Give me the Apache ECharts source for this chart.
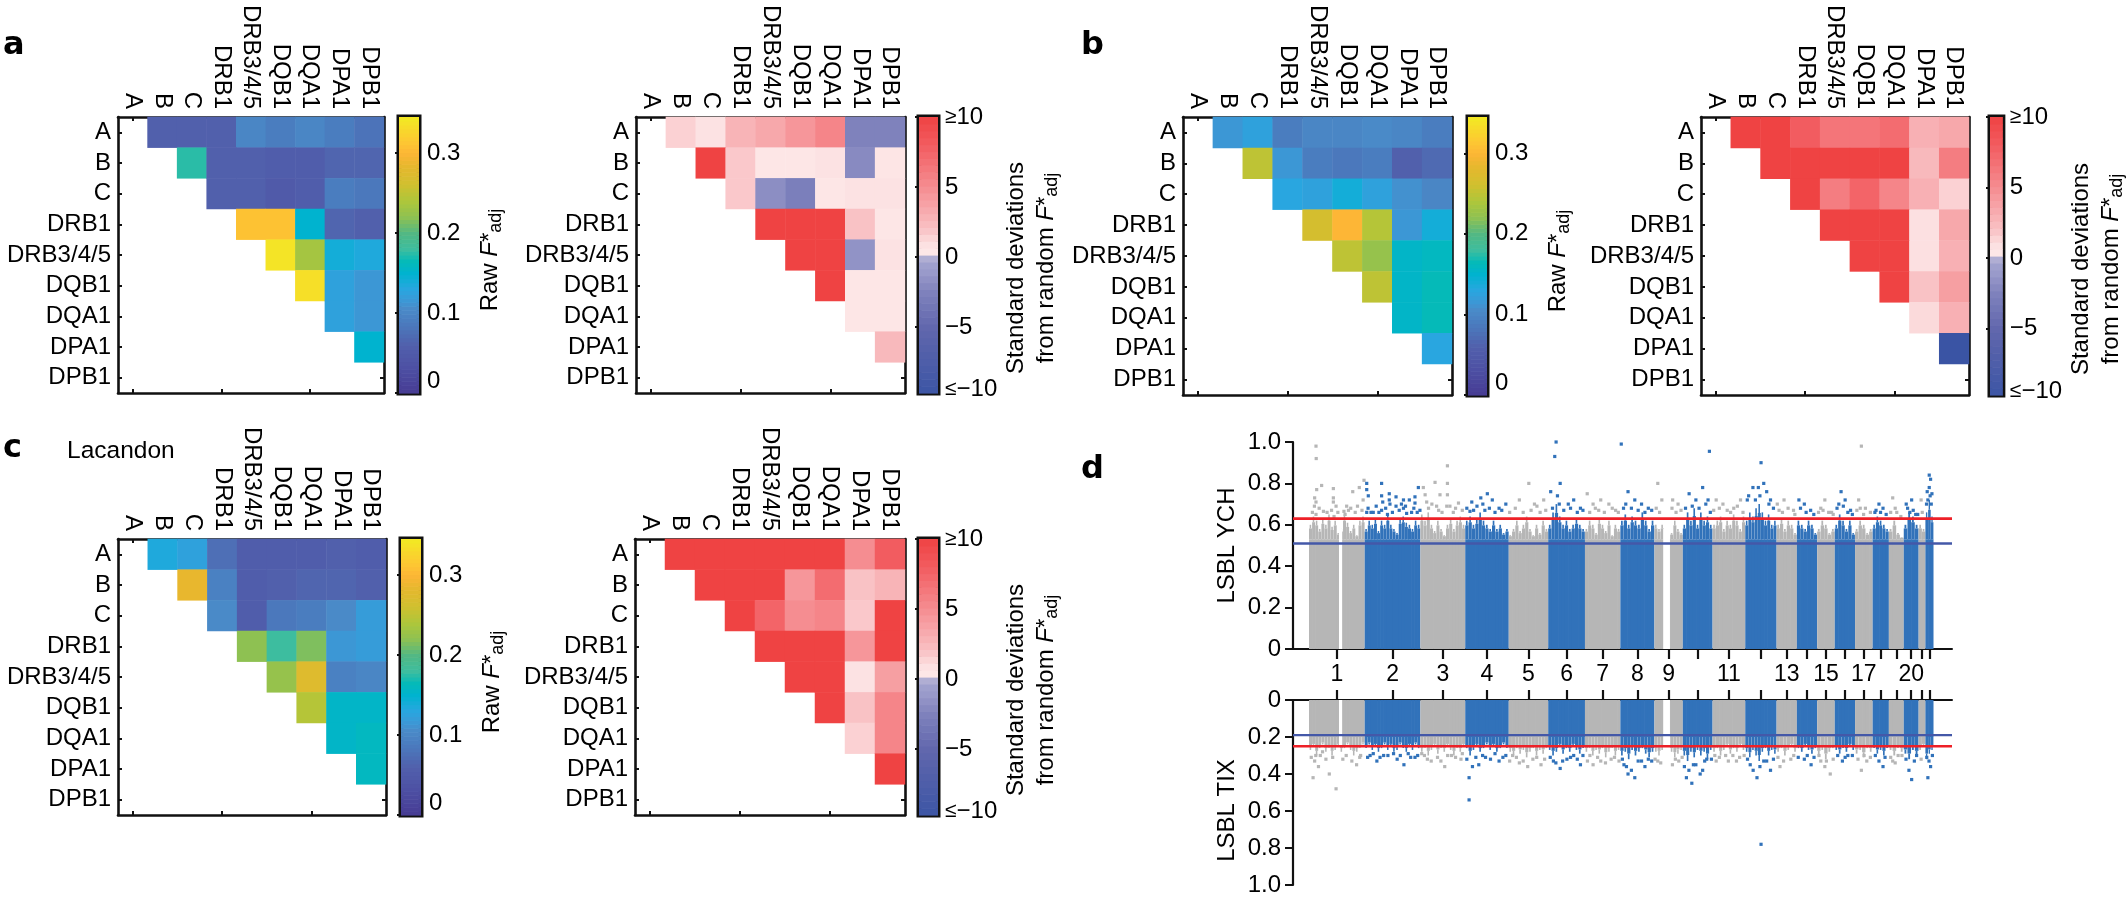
<!DOCTYPE html>
<html><head><meta charset="utf-8">
<style>html,body{margin:0;padding:0;background:#fff}#c{width:2127px;height:900px}</style>
<script src="https://cdn.jsdelivr.net/npm/echarts@6/dist/echarts.min.js"></script>
</head><body><div id="c"></div>
<script>
const categories=['A','B','C','DRB1','DRB3/4/5','DQB1','DQA1','DPA1','DPB1'];

// upper triangles: row i starts at column i+1
const aRaw=[[.06,.06,.06,.10,.09,.10,.09,.08],[.175,.06,.06,.055,.055,.065,.065],[.06,.06,.05,.055,.09,.085],[.31,.31,.15,.065,.06],[.34,.235,.14,.135],[.335,.125,.115],[.125,.115],[.15]];
const aZ=[[1.5,.8,2.8,3.5,4.5,5.5,-2.5,-2.5],[10,1.8,.5,.5,.8,-2,.6],[1.8,-1.8,-2.8,.5,.8,.8],[10,10,10,2,.5],[10,10,-1.5,.8],[10,.5,.5],[.5,.5],[2.5]];
const bRaw=[[.115,.125,.09,.10,.10,.105,.10,.09],[.25,.115,.09,.085,.09,.06,.07],[.13,.125,.14,.125,.11,.10],[.265,.30,.245,.115,.14],[.25,.225,.155,.16],[.25,.155,.165],[.155,.165],[.13]];
const bZ=[[10,10,8,6.5,6.5,7,3,3.5],[10,10,10,10,10,2.5,6],[10,6,7.5,5.5,3,1.5],[10,10,10,1,3.5],[10,10,1,3],[10,2,4],[1.2,3],[-10]];
const cRaw=[[.135,.125,.075,.055,.055,.055,.06,.055],[.285,.095,.055,.06,.065,.065,.06],[.105,.055,.085,.09,.105,.12],[.22,.18,.215,.115,.12],[.225,.275,.095,.10],[.245,.155,.155],[.155,.16],[.16]];
const cZ=[[10,10,10,10,10,10,5,8],[10,10,10,4.5,7,2,2.8],[10,7.5,5,5.5,1.8,10],[10,10,10,4.5,10],[10,10,.8,4],[10,2,5.5],[1.5,5.5],[10]];

const rawStops=[[0,'#473b93'],[.03,'#4d4fa3'],[.06,'#5160ac'],[.09,'#4a7dbf'],[.105,'#4a8ac8'],[.115,'#3c97d5'],[.13,'#29a6e0'],[.15,'#00b3cf'],[.165,'#05bab8'],[.18,'#3dbd9f'],[.20,'#52b883'],[.22,'#8ec152'],[.24,'#adc63b'],[.26,'#cfc02f'],[.285,'#e8b72e'],[.30,'#fdb636'],[.315,'#fdc832'],[.345,'#f2ea23']];
const zStops=[[-10,'#3a54a4'],[-5,'#6167ad'],[-2.5,'#7f82bc'],[-1,'#9a9bcb'],[-.13,'#a5a5d0'],[.13,'#fdeaea'],[1,'#fce0e1'],[2,'#f9c2c5'],[5,'#f58d91'],[8,'#f25c60'],[10,'#ef4343']];

// Genome scan: chromosome lengths along the position axis
const chrLengths=[247,247,199,193,175,163,157,151,126,132,145,139,90,90,78,90,78,72,66,66,30,36];
const chrLabels=['1','2','3','4','5','6','7','8','9','','11','','13','','15','','17','','','20','',''];
const gaps=[[133,147],[1571,1601]];
const ychThresholds=[.63,.51];
const tixThresholds=[.25,.19];
const ychSolid=.53, tixSolid=.2;

const ychPeaks=[
[.60,.64,.62,.58,.63,.60,.65,.59,.62,.56,.58,.65,.61,.57,.60,.55,.62,.64],
[.58,.62,.60,.63,.57,.62,.60,.65,.60,.58,.56,.63,.64,.61,.60,.58,.62,.60],
[.65,.62,.66,.60,.57,.62,.58,.55,.60,.63,.58,.62,.64,.60],
[.62,.64,.60,.63,.66,.62,.60,.58,.62,.58,.60,.56,.58],
[.55,.58,.62,.57,.60,.64,.58,.55,.60,.56,.62,.58],
[.60,.66,.70,.64,.60,.62,.58,.60,.63,.60,.58],
[.58,.62,.60,.56,.63,.60,.57,.62,.55,.60,.58],
[.62,.65,.60,.64,.62,.60,.66,.62,.58,.62],
[.60,.58,.60,.53,.53,.56,.62,.58,.56],
[.60,.66,.62,.68,.60,.66,.62,.64,.60],
[.60,.62,.64,.58,.62,.60,.65,.62,.58,.64],
[.62,.66,.64,.68,.70,.66,.62,.65,.60,.62],
[.60,.63,.58,.62,.60,.56],
[.62,.60,.58,.62,.60,.56],
[.58,.62,.60,.56,.58],
[.60,.65,.62,.58,.62,.56],
[.58,.62,.60,.56,.58],
[.60,.64,.62,.60,.58],
[.58,.62,.56,.54],
[.60,.66,.64,.60],
[.60,.58],
[.66,.72,.64]];

const tixPeaks=[
[.27,.25,.30,.26,.24,.28,.26,.30,.27,.25,.28,.26,.24,.27,.30,.28,.26,.24],
[.26,.24,.27,.25,.28,.26,.24,.27,.25,.28,.27,.24,.26,.28,.25,.27,.24,.26],
[.28,.26,.30,.27,.25,.29,.26,.28,.25,.27,.30,.26,.28,.25],
[.26,.30,.27,.25,.28,.26,.24,.27,.25,.28,.26,.24,.26],
[.28,.30,.26,.29,.27,.31,.28,.26,.30,.27,.29,.26],
[.27,.30,.28,.25,.29,.26,.28,.25,.27,.29,.26],
[.28,.26,.30,.27,.29,.26,.31,.28,.26,.30,.27],
[.30,.28,.32,.27,.30,.28,.26,.29,.31,.28],
[.28,.30,.27,.20,.20,.28,.31,.29,.27],
[.30,.33,.28,.31,.27,.30,.28,.32,.27],
[.28,.26,.30,.27,.25,.29,.26,.28,.25,.27],
[.28,.31,.27,.30,.33,.28,.26,.30,.27,.29],
[.28,.26,.30,.27,.25,.28],
[.26,.28,.25,.27,.29,.26],
[.30,.27,.32,.28,.26],
[.27,.29,.26,.28,.25,.27],
[.29,.27,.31,.26,.28],
[.26,.29,.27,.30,.26],
[.27,.30,.26,.28],
[.29,.32,.27,.30],
[.27,.25],
[.32,.29,.27]];

const ychOutliers=[[31,.98],[32,.92],[56,.79],[34,.77],[25,.73],[31,.71],[24,.69],[64,.665],[31,.65],[108,.775],[108,.73],[108,.71],[111,.64],[194,.76],[223,.78],[167,.69],[175,.67],[155,.665],[244,.815],[240,.72],
[256,.80],[256,.77],[263,.74],[322,.80],[322,.74],[327,.71],[356,.75],[356,.72],[359,.70],[386,.735],[386,.69],[419,.72],[445,.72],[470,.735],[470,.705],[485,.78],[492,.67],[256,.66],[285,.66],[322,.67],[348,.65],[419,.68],[433,.655],
[507,.78],[515,.745],[522,.71],[559,.805],[581,.745],[614,.885],[614,.80],[614,.745],[663,.705],[566,.69],[611,.69],
[791,.75],[722,.71],[762,.73],[771,.70],[714,.665],[813,.72],[843,.68],[873,.70],
[933,.72],[975,.80],[1011,.69],[1041,.72],
[1072,.76],[1090,.93],[1096,1.0],[1102,.74],[1114,.80],[1150,.70],[1174,.72],[1204,.68],
[1234,.75],[1270,.68],[1294,.72],[1330,.70],[1360,.67],
[1385,.99],[1415,.76],[1445,.72],[1475,.70],[1505,.68],
[1547,.80],[1565,.72],[1613,.72],[1637,.70],
[1686,.75],[1716,.72],[1746,.78],[1770,.72],[1776,.955],
[1806,.72],[1836,.70],[1884,.68],[1914,.72],
[1944,.72],[1969,.78],[1993,.78],[2005,.90],[2017,.80],[2047,.72],
[2077,.70],[2107,.72],[2149,.67],
[2173,.72],[2197,.70],[2239,.65],
[2270,.68],[2288,.72],[2318,.66],
[2342,.68],[2360,.76],[2378,.72],[2402,.67],
[2438,.72],[2450,.98],[2468,.68],
[2510,.66],[2528,.70],[2546,.68],
[2589,.73],[2607,.66],
[2649,.70],[2673,.72],[2691,.65],
[2715,.72],
[2739,.70],[2745,.72],[2751,.84],[2757,.82],[2763,.75],[2751,.78]];

const ychBandPoints=[[15,.66],[45,.68],[80,.66],[100,.67],[120,.69],[128,.66],[160,.65],[185,.68],[205,.66],[215,.69],[235,.67],
[262,.68],[275,.66],[298,.69],[310,.66],[340,.68],[370,.66],[400,.67],[410,.70],[428,.69],[455,.66],[465,.68],[480,.66],
[530,.68],[545,.70],[575,.67],[590,.66],[625,.69],[640,.66],[650,.68],[680,.67],
[700,.68],[730,.67],[745,.69],[780,.67],[800,.68],[825,.66],[855,.67],
[890,.66],[915,.68],[950,.66],[985,.67],[1000,.70],[1025,.66],[1050,.67],
[1080,.68],[1110,.70],[1130,.67],[1160,.68],[1190,.66],[1215,.67],
[1245,.66],[1260,.70],[1285,.67],[1310,.66],[1345,.68],[1372,.66],
[1395,.68],[1405,.70],[1430,.68],[1460,.67],[1490,.66],[1520,.67],
[1540,.68],[1555,.66],[1610,.68],[1628,.66],[1650,.67],
[1670,.68],[1700,.69],[1730,.68],[1760,.70],[1780,.66],
[1795,.67],[1820,.68],[1855,.67],[1870,.66],[1900,.69],[1925,.66],
[1950,.74],[1980,.72],[2000,.74],[2030,.76],[2040,.70],[2060,.68],
[2085,.67],[2100,.66],[2125,.68],[2155,.65],
[2180,.68],[2205,.66],[2225,.67],
[2260,.66],[2280,.67],[2305,.66],[2325,.65],
[2350,.70],[2370,.69],[2390,.66],[2410,.65],
[2430,.67],[2445,.68],[2460,.65],[2490,.66],
[2515,.67],[2535,.66],[2560,.65],
[2580,.66],[2600,.68],[2625,.64],
[2655,.68],[2665,.66],[2680,.67],[2700,.65],
[2720,.66],[2742,.76],[2755,.74],[2760,.70]];

const tixOutliers=[[30,.30],[42,.36],[18,.42],[60,.28],[90,.40],[120,.48],[150,.32],[211,.35],[229,.30],
[271,.30],[301,.33],[331,.30],[391,.32],[421,.35],[451,.31],[482,.30],
[512,.30],[542,.33],[602,.36],[632,.30],[674,.32],
[710,.42],[710,.54],[753,.35],[783,.31],[843,.33],[873,.30],
[903,.30],[933,.34],[993,.32],[1029,.35],
[1084,.33],[1114,.37],[1144,.32],[1174,.30],[1204,.35],
[1246,.30],[1294,.33],[1355,.31],
[1397,.35],[1415,.40],[1445,.42],[1475,.33],[1505,.32],
[1547,.33],[1625,.32],
[1674,.42],[1698,.45],[1716,.35],[1746,.38],[1764,.32],
[1806,.33],[1848,.30],[1896,.33],
[2005,.78],[1957,.35],[1987,.42],[2017,.33],[2047,.38],
[2089,.36],[2137,.32],[2197,.32],[2227,.35],
[2288,.36],[2270,.33],[2312,.40],[2366,.33],[2390,.30],
[2450,.38],[2474,.33],[2528,.33],[2546,.36],[2589,.33],[2613,.30],
[2661,.38],[2673,.43],[2685,.33],[2715,.32],[2745,.42],[2757,.36]];

const tixBandPoints=[[10,.31],[25,.33],[50,.30],[75,.32],[105,.31],[165,.30],[190,.33],[225,.31],
[260,.31],[285,.29],[315,.31],[350,.30],[375,.29],[405,.30],[440,.29],[470,.31],
[500,.29],[525,.32],[570,.31],[585,.33],[615,.30],[650,.31],[680,.29],
[700,.32],[725,.36],[740,.31],[770,.30],[805,.32],[825,.29],[860,.31],
[890,.33],[920,.31],[950,.33],[970,.36],[1010,.31],[1045,.32],
[1070,.31],[1095,.34],[1125,.33],[1160,.31],[1190,.32],[1215,.30],
[1235,.33],[1260,.35],[1280,.31],[1315,.34],[1340,.32],[1375,.33],
[1390,.32],[1408,.36],[1430,.38],[1460,.33],[1490,.36],[1520,.33],
[1535,.32],[1560,.34],[1612,.35],[1640,.33],[1655,.31],
[1665,.36],[1685,.38],[1705,.35],[1735,.40],[1755,.33],[1785,.32],
[1800,.30],[1820,.31],[1860,.33],[1880,.30],[1910,.31],[1930,.30],
[1945,.32],[1970,.38],[2000,.36],[2030,.33],[2060,.32],
[2080,.31],[2105,.33],[2150,.30],[2170,.31],[2210,.30],[2240,.31],
[2262,.30],[2295,.33],[2325,.32],[2345,.30],[2378,.31],[2410,.30],
[2435,.32],[2462,.30],[2490,.31],[2512,.30],[2555,.31],
[2580,.31],[2600,.34],[2630,.30],[2648,.32],[2695,.30],
[2740,.31],[2750,.33],[2765,.30]];

// ---------- helpers ----------
const FONT='"Liberation Sans", Arial, sans-serif';
const BLACK='#111';
function hex(c){return [1,3,5].map(i=>parseInt(c.substr(i,2),16));}
function colorAt(stops,v){
  if(v<=stops[0][0])return stops[0][1];
  for(let i=1;i<stops.length;i++){ if(v<=stops[i][0]){
    const [a,ca]=stops[i-1],[b,cb]=stops[i],t=(v-a)/(b-a),A=hex(ca),B=hex(cb);
    return 'rgb('+A.map((x,k)=>Math.round(x+(B[k]-x)*t)).join(',')+')';
  }}
  return stops[stops.length-1][1];
}
function tri(rows){const out=[];rows.forEach((r,i)=>r.forEach((v,j)=>out.push([categories[i+1+j],categories[i],v])));return out;}
const starts=[];chrLengths.reduce((s,l,i)=>{starts[i]=s;return s+l;},0);
const centers=chrLengths.map((l,i)=>starts[i]+l/2);
const chrOf=x=>{for(let i=chrLengths.length-1;i>=0;i--)if(x>=starts[i])return i;return 0;};
const labelAt={};centers.forEach((c,i)=>{if(chrLabels[i])labelAt[c]=chrLabels[i];});

const grid=[],xAxis=[],yAxis=[],series=[];
const rawIdx=[],zIdx=[];
const lineS={show:true,onZero:false,lineStyle:{color:BLACK,width:2.6}};
const tickIn={show:true,inside:true,alignWithLabel:true,length:4,lineStyle:{color:BLACK,width:2}};

function addHeat(left,top,w,h,rows,isRaw){
  const g=grid.length;
  grid.push({left,top,width:w,height:h,containLabel:false,show:false});
  const xi=xAxis.length,yi=yAxis.length;
  xAxis.push({type:'category',gridIndex:g,position:'top',data:categories,axisLine:lineS,axisTick:tickIn,splitLine:{show:false},
    axisLabel:{show:true,interval:0,rotate:90,margin:8,fontFamily:FONT,fontSize:24,color:'#000'}});
  xAxis.push({type:'category',gridIndex:g,position:'bottom',data:categories,axisLine:lineS,axisTick:tickIn,axisLabel:{show:false},splitLine:{show:false}});
  yAxis.push({type:'category',gridIndex:g,position:'left',inverse:true,data:categories,axisLine:lineS,axisTick:tickIn,splitLine:{show:false},
    axisLabel:{show:true,interval:0,margin:7,fontFamily:FONT,fontSize:24,color:'#000'}});
  yAxis.push({type:'category',gridIndex:g,position:'right',inverse:true,data:categories,axisLine:lineS,axisTick:tickIn,axisLabel:{show:false},splitLine:{show:false}});
  (isRaw?rawIdx:zIdx).push(series.length);
  series.push({type:'heatmap',xAxisIndex:xi,yAxisIndex:yi,data:tri(rows),progressive:0,itemStyle:{borderWidth:0},emphasis:{disabled:true}});
}
const rich={t:{fontFamily:FONT,fontSize:24,color:'#000'},i:{fontFamily:FONT,fontSize:24,fontStyle:'italic',color:'#000'},
  s:{fontFamily:FONT,fontSize:18,color:'#000',padding:[12,0,0,0]},g:{fontFamily:FONT,fontSize:21,color:'#000'},m:{fontFamily:FONT,fontSize:24,color:'#000',padding:[0,0,8,0]},gm:{fontFamily:FONT,fontSize:21,color:'#000',padding:[0,0,8,0]}};

function addBar(left,top,w,h,isRaw){
  const g=grid.length;
  grid.push({left,top,width:w,height:h,containLabel:false,show:true,borderColor:BLACK,borderWidth:5,backgroundColor:'#fff'});
  const stops=isRaw?rawStops:zStops;
  const lo=isRaw?0:-9.7, hi=isRaw?.345:10, n=isRaw?70:40;
  const xi=xAxis.length,yi=yAxis.length;
  xAxis.push({type:'value',gridIndex:g,show:false,min:0,max:1,splitLine:{show:false}});
  yAxis.push({type:'value',gridIndex:g,position:'right',min:lo,max:hi,splitLine:{show:false},
    axisLine:{show:false},
    axisTick:{show:true,inside:true,length:4,lineStyle:{color:BLACK,width:2},customValues:isRaw?[0,.1,.2,.3]:[-5,0,5,10]},
    axisLabel:{show:true,margin:isRaw?8:7,fontFamily:FONT,fontSize:24,color:'#000',rich,
      customValues:isRaw?[0,.1,.2,.3]:[-9.7,-5,0,5,10],verticalAlignMinLabel:isRaw?'bottom':'middle',
      formatter:isRaw?(v=>v===0?'0':String(+v.toFixed(1))):(v=>v===10?'{g|≥}10':v<-9?'{gm|≤}{m|−10}':v<0?'−5':String(v))},
    name:isRaw?'{t|Raw }{i|F}{t|*}{s|adj}':'{t|Standard deviations}\n{t|from random }{i|F}{t|*}{s|adj}',
    nameLocation:'middle',nameRotate:90,nameGap:isRaw?56:58,
    nameTextStyle:{rich,lineHeight:30,padding:isRaw?[0,10,0,0]:[0,26,0,0]}});
  const levels=[];for(let i=0;i<n;i++){const a=lo+(hi-lo)*i/n,b=lo+(hi-lo)*(i+1)/n;levels.push([a,b]);}
  series.push({type:'custom',xAxisIndex:xi,yAxisIndex:yi,silent:true,data:levels,
    renderItem:(p,api)=>{const a=api.coord([0,api.value(0)]),b=api.coord([1,api.value(1)]);
      return {type:'rect',shape:{x:a[0],y:b[1],width:b[0]-a[0],height:a[1]-b[1]+.6},style:{fill:colorAt(stops,(api.value(0)+api.value(1))/2)}};}});
}

function addScan(left,top,w,h,peaks,outliers,thr,solid,name,inverse,padName){
  const g=grid.length;
  grid.push({left,top,width:w,height:h,containLabel:false,show:false});
  const xmin=-71,xmax=2852;
  const xi=xAxis.length,yi=yAxis.length;
  xAxis.push({type:'value',gridIndex:g,min:xmin,max:xmax,position:inverse?'top':'bottom',splitLine:{show:false},
    axisLine:{show:true,onZero:false,lineStyle:{color:BLACK,width:2}},
    axisTick:{show:true,length:10,lineStyle:{color:BLACK,width:2.2},customValues:centers},
    axisLabel:inverse?{show:false}:{show:true,margin:14,fontFamily:FONT,fontSize:23,color:'#000',hideOverlap:false,
      customValues:Object.keys(labelAt).map(Number),formatter:v=>labelAt[v]||''}});
  yAxis.push({type:'value',gridIndex:g,min:0,max:1,interval:.2,inverse,position:'left',splitLine:{show:false},
    axisLine:{show:true,onZero:false,lineStyle:{color:BLACK,width:2.2}},
    axisTick:{show:true,length:8,lineStyle:{color:BLACK,width:2}},
    axisLabel:{show:true,margin:12,fontFamily:FONT,fontSize:24,color:'#000',formatter:v=>v===0?'0':v.toFixed(1)},
    name,nameLocation:'middle',nameRotate:90,nameGap:54,
    nameTextStyle:{fontFamily:FONT,fontSize:24,color:'#000',padding:padName}});
  const cols=[];
  peaks.forEach((arr,c)=>arr.forEach((v,j)=>{const d=chrLengths[c]/arr.length;cols.push([starts[c]+j*d,starts[c]+(j+1)*d,v,c%2,j===arr.length-1?0:1]);}));
  const col=b=>b?'#3172ba':'#b6b6b6';
  const rectBetween=(x0,x1,v0,v1,fill,api)=>{const a=api.coord([x0,v0]),b=api.coord([x1,v1]);
    return {type:'rect',shape:{x:a[0],y:Math.min(a[1],b[1]),width:b[0]-a[0],height:Math.abs(a[1]-b[1])},style:{fill}};};
  series.push({type:'custom',xAxisIndex:xi,yAxisIndex:yi,silent:true,data:cols,z:2,
    renderItem:(p,api)=>{
      const x0=api.value(0),x1=api.value(1),m=api.value(2),c=col(api.value(3)),d=x1-x0;
      const mid=solid+(m-solid)*.75;
      return {type:'group',children:[
        rectBetween(x0,x1+(api.value(4)?3:0),0,solid,c,api),
        rectBetween(x0,x0+d*.96,solid,mid,c,api),
        rectBetween(x0+d*.2,x0+d*.7,mid,m,c,api)
      ]};}});
  series.push({type:'custom',xAxisIndex:xi,yAxisIndex:yi,silent:true,data:gaps,z:3,
    renderItem:(p,api)=>rectBetween(api.value(0),api.value(1),0,solid+.05,'#fff',api)});
  const gray=outliers.filter(p=>chrOf(p[0])%2===0),blue=outliers.filter(p=>chrOf(p[0])%2===1);
  series.push({type:'scatter',xAxisIndex:xi,yAxisIndex:yi,symbol:'rect',symbolSize:3.2,data:gray,itemStyle:{color:'#b6b6b6',opacity:1},silent:true,z:4});
  series.push({type:'scatter',xAxisIndex:xi,yAxisIndex:yi,symbol:'rect',symbolSize:3.2,data:blue,itemStyle:{color:'#3172ba',opacity:1},silent:true,z:4});
  [[thr[0],'#ee2027',2.6],[thr[1],'#4458a8',2.4]].forEach(([v,c,wd])=>{
    series.push({type:'line',xAxisIndex:xi,yAxisIndex:yi,data:[[xmin,v],[xmax,v]],symbol:'none',silent:true,z:5,lineStyle:{color:c,width:wd}});
  });
}

// ---------- layout ----------
addHeat(118,117,266,276,aRaw,true);  addBar(399,117,20,276,true);
addHeat(636,117,269,276,aZ,false);   addBar(919,117,19,276,false);
addHeat(1183,117,269,278,bRaw,true); addBar(1468,117,19,278,true);
addHeat(1701,117,268,278,bZ,false);  addBar(1990,117,24,278,false);
addHeat(118,539,268,276,cRaw,true);  addBar(401,539,20,276,true);
addHeat(635,539,270,276,cZ,false);   addBar(919,539,19,276,false);
addScan(1293,442,659,207,ychPeaks,ychOutliers.concat(ychBandPoints),ychThresholds,ychSolid,'LSBL YCH',false,[0,0,0,0]);
addScan(1293,700,659,185,tixPeaks,tixOutliers.concat(tixBandPoints),tixThresholds,tixSolid,'LSBL TIX',true,[0,36,0,0]);

const rawColors=[];for(let i=0;i<=69;i++)rawColors.push(colorAt(rawStops,.345*i/69));
const zColors=[];for(let i=0;i<=80;i++)zColors.push(colorAt(zStops,-10+i*.25));

const letter=(s,x,y)=>({type:'text',x,y,style:{text:s,fontFamily:'"DejaVu Sans"',fontWeight:'bold',fontSize:32,fill:'#000'}});
const option={
  animation:false,backgroundColor:'#fff',grid,xAxis,yAxis,series,
  visualMap:[
    {type:'continuous',show:false,dimension:2,min:0,max:.345,seriesIndex:rawIdx,inRange:{color:rawColors}},
    {type:'continuous',show:false,dimension:2,min:-10,max:10,seriesIndex:zIdx,inRange:{color:zColors}}
  ],
  graphic:[letter('a',3,30),letter('b',1081,30),letter('c',3,433),letter('d',1081,454),
    {type:'text',x:67,y:439,style:{text:'Lacandon',fontFamily:FONT,fontSize:24.5,fill:'#000'}}]
};
const chart=echarts.init(document.getElementById('c'),null,{renderer:'canvas',width:2127,height:900});
chart.setOption(option);
</script></body></html>
